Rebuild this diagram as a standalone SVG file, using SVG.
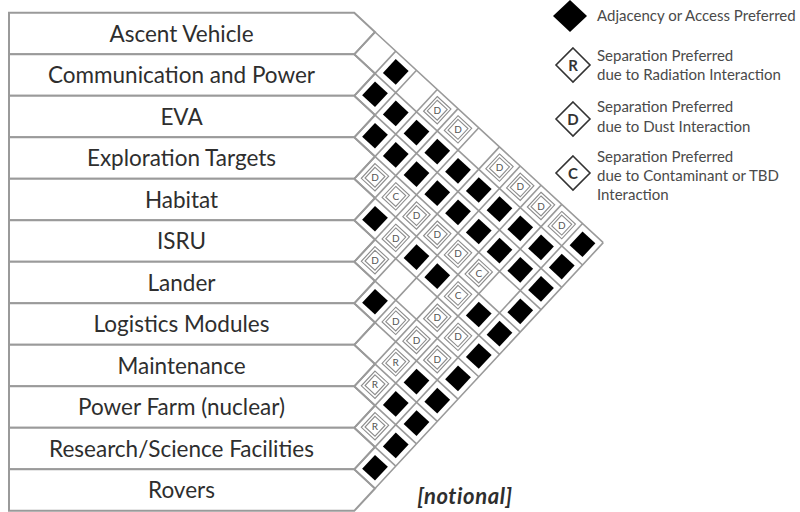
<svg xmlns="http://www.w3.org/2000/svg" xmlns:xlink="http://www.w3.org/1999/xlink" width="800" height="512" viewBox="0 0 800 512">
<style>
.row{fill:#fff;stroke:#9a9a9a;stroke-width:2}
.lbl{font-family:Lato,"Open Sans",sans-serif;font-size:22.5px;fill:#2e2e2e;text-anchor:middle}
.grid{fill:none;stroke:#9a9a9a;stroke-width:1.6;vector-effect:non-scaling-stroke}
.fr{fill:none;stroke:#8c8c8c;stroke-width:1.1;vector-effect:non-scaling-stroke}
.lt{font-family:Lato,"Open Sans",sans-serif;font-size:10px;fill:#555;text-anchor:middle}
.lg{font-family:Lato,"Open Sans",sans-serif;font-size:15px;fill:#4a4a4a}
.lgd{fill:#fff;stroke:#333;stroke-width:1.6}
.lgl{font-family:Lato,"Open Sans",sans-serif;font-size:15px;fill:#333;text-anchor:middle;font-weight:bold}
</style>
<defs>
<rect id="b" x="0.19" y="0.19" width="0.62" height="0.62" fill="#000"/>
<g id="f"><rect class="fr" x="0.17" y="0.17" width="0.66" height="0.66"/><rect class="fr" x="0.26" y="0.26" width="0.48" height="0.48"/></g>
</defs>
<rect width="800" height="512" fill="#fff"/>
<g id="row-ascent-vehicle"><polygon class="row" points="9,12.85 354.25,12.85 375,32 354.25,54.35 9,54.35"/><text class="lbl" x="181.5" y="41.6">Ascent Vehicle</text></g>
<g id="row-communication-power"><polygon class="row" points="9,54.35 354.25,54.35 375,73.5 354.25,95.85 9,95.85"/><text class="lbl" x="181.5" y="83.1">Communication and Power</text></g>
<g id="row-eva"><polygon class="row" points="9,95.85 354.25,95.85 375,115 354.25,137.35 9,137.35"/><text class="lbl" x="181.5" y="124.6">EVA</text></g>
<g id="row-exploration-targets"><polygon class="row" points="9,137.35 354.25,137.35 375,156.5 354.25,178.85 9,178.85"/><text class="lbl" x="181.5" y="166.1">Exploration Targets</text></g>
<g id="row-habitat"><polygon class="row" points="9,178.85 354.25,178.85 375,198 354.25,220.35 9,220.35"/><text class="lbl" x="181.5" y="207.6">Habitat</text></g>
<g id="row-isru"><polygon class="row" points="9,220.35 354.25,220.35 375,239.5 354.25,261.85 9,261.85"/><text class="lbl" x="181.5" y="249.1">ISRU</text></g>
<g id="row-lander"><polygon class="row" points="9,261.85 354.25,261.85 375,281 354.25,303.35 9,303.35"/><text class="lbl" x="181.5" y="290.6">Lander</text></g>
<g id="row-logistics-modules"><polygon class="row" points="9,303.35 354.25,303.35 375,322.5 354.25,344.85 9,344.85"/><text class="lbl" x="181.5" y="332.1">Logistics Modules</text></g>
<g id="row-maintenance"><polygon class="row" points="9,344.85 354.25,344.85 375,364 354.25,386.35 9,386.35"/><text class="lbl" x="181.5" y="373.6">Maintenance</text></g>
<g id="row-power-farm"><polygon class="row" points="9,386.35 354.25,386.35 375,405.5 354.25,427.85 9,427.85"/><text class="lbl" x="181.5" y="415.1">Power Farm (nuclear)</text></g>
<g id="row-research-science"><polygon class="row" points="9,427.85 354.25,427.85 375,447 354.25,469.35 9,469.35"/><text class="lbl" x="181.5" y="456.6">Research/Science Facilities</text></g>
<g id="row-rovers"><polygon class="row" points="9,469.35 354.25,469.35 375,488.5 354.25,510.85 9,510.85"/><text class="lbl" x="181.5" y="498.1">Rovers</text></g>
<g id="matrix" transform="matrix(20.75,19.15,-20.75,22.35,375,32)">
<path class="grid" d="M0,0H11M0,1H11M1,2H11M2,3H11M3,4H11M4,5H11M5,6H11M6,7H11M7,8H11M8,9H11M9,10H11M10,11H11M0,0V1M1,0V2M2,0V3M3,0V4M4,0V5M5,0V6M6,0V7M7,0V8M8,0V9M9,0V10M10,0V11M11,0V11"/>
<use xlink:href="#b" x="1" y="1"/><use xlink:href="#b" x="2" y="2"/><use xlink:href="#b" x="4" y="4"/><use xlink:href="#b" x="6" y="6"/><use xlink:href="#b" x="10" y="10"/>
<use xlink:href="#b" x="1" y="0"/><use xlink:href="#b" x="2" y="1"/><use xlink:href="#b" x="3" y="2"/><use xlink:href="#b" x="9" y="8"/><use xlink:href="#b" x="10" y="9"/>
<use xlink:href="#b" x="3" y="1"/><use xlink:href="#b" x="4" y="2"/><use xlink:href="#b" x="6" y="4"/><use xlink:href="#b" x="9" y="7"/><use xlink:href="#b" x="10" y="8"/>
<use xlink:href="#b" x="4" y="1"/><use xlink:href="#b" x="5" y="2"/><use xlink:href="#b" x="7" y="4"/><use xlink:href="#b" x="10" y="7"/>
<use xlink:href="#b" x="5" y="1"/><use xlink:href="#b" x="6" y="2"/><use xlink:href="#b" x="10" y="6"/>
<use xlink:href="#b" x="6" y="1"/><use xlink:href="#b" x="7" y="2"/><use xlink:href="#b" x="9" y="4"/><use xlink:href="#b" x="10" y="5"/>
<use xlink:href="#b" x="7" y="1"/><use xlink:href="#b" x="8" y="2"/><use xlink:href="#b" x="10" y="4"/>
<use xlink:href="#b" x="8" y="1"/><use xlink:href="#b" x="9" y="2"/><use xlink:href="#b" x="10" y="3"/>
<use xlink:href="#b" x="9" y="1"/><use xlink:href="#b" x="10" y="2"/>
<use xlink:href="#b" x="10" y="1"/>
<use xlink:href="#b" x="10" y="0"/>
<use xlink:href="#f" x="3" y="3"/><use xlink:href="#f" x="5" y="5"/><use xlink:href="#f" x="5" y="4"/><use xlink:href="#f" x="7" y="6"/><use xlink:href="#f" x="5" y="3"/><use xlink:href="#f" x="8" y="6"/>
<use xlink:href="#f" x="3" y="0"/><use xlink:href="#f" x="6" y="3"/><use xlink:href="#f" x="8" y="5"/><use xlink:href="#f" x="9" y="6"/><use xlink:href="#f" x="4" y="0"/><use xlink:href="#f" x="7" y="3"/>
<use xlink:href="#f" x="9" y="5"/><use xlink:href="#f" x="6" y="0"/><use xlink:href="#f" x="7" y="0"/><use xlink:href="#f" x="8" y="0"/><use xlink:href="#f" x="9" y="0"/>
<use xlink:href="#f" x="4" y="3"/><use xlink:href="#f" x="8" y="4"/><use xlink:href="#f" x="8" y="3"/>
<use xlink:href="#f" x="8" y="8"/><use xlink:href="#f" x="9" y="9"/><use xlink:href="#f" x="8" y="7"/>
</g>
<g id="matrix-letters">
<text class="lt" x="375" y="180.85">D</text><text class="lt" x="375" y="263.85">D</text><text class="lt" x="395.75" y="241.5">D</text><text class="lt" x="395.75" y="324.5">D</text>
<text class="lt" x="416.5" y="219.15">D</text><text class="lt" x="416.5" y="343.65">D</text><text class="lt" x="437.25" y="113.8">D</text><text class="lt" x="437.25" y="238.3">D</text>
<text class="lt" x="437.25" y="321.3">D</text><text class="lt" x="437.25" y="362.8">D</text><text class="lt" x="458" y="132.95">D</text><text class="lt" x="458" y="257.45">D</text>
<text class="lt" x="458" y="340.45">D</text><text class="lt" x="499.5" y="171.25">D</text><text class="lt" x="520.25" y="190.4">D</text><text class="lt" x="541" y="209.55">D</text><text class="lt" x="561.75" y="228.7">D</text>
<text class="lt" x="395.75" y="200">C</text><text class="lt" x="458" y="298.95">C</text><text class="lt" x="478.75" y="276.6">C</text>
<text class="lt" x="375" y="388.35">R</text><text class="lt" x="375" y="429.85">R</text><text class="lt" x="395.75" y="366">R</text>
</g>
<g id="legend">
<polygon points="570,0 587,16 570,32 553,16" fill="#000"/>
<text class="lg" x="597" y="21">Adjacency or Access Preferred</text>
<polygon class="lgd" points="573,48 590,65 573,82 556,65"/><text class="lgl" x="573" y="70.5">R</text>
<text class="lg" x="597" y="61">Separation Preferred</text><text class="lg" x="597" y="80">due to Radiation Interaction</text>
<polygon class="lgd" points="573,102 590,119 573,136 556,119"/><text class="lgl" x="573" y="124.5">D</text>
<text class="lg" x="597" y="112">Separation Preferred</text><text class="lg" x="597" y="132">due to Dust Interaction</text>
<polygon class="lgd" points="573,156 590,173 573,190 556,173"/><text class="lgl" x="573" y="178.5">C</text>
<text class="lg" x="597" y="162">Separation Preferred</text><text class="lg" x="597" y="181">due to Contaminant or TBD</text><text class="lg" x="597" y="200">Interaction</text>
</g>
<text x="465" y="504" font-family="Lato,'Open Sans',sans-serif" font-size="22" font-weight="bold" font-style="italic" fill="#2e2e2e" text-anchor="middle" letter-spacing="0.6">[notional]</text>
</svg>
